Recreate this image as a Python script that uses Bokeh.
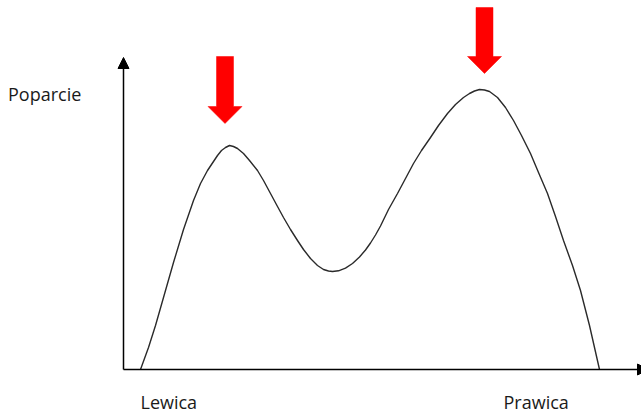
from bokeh.plotting import figure
from bokeh.models import Range1d, Arrow, NormalHead, Label
from bokeh.embed import file_html
from bokeh.resources import INLINE

# Support curve (x: political position, y: support)
curve_x = [17, 25, 32, 40, 50, 60, 70, 77, 84, 90, 94, 98, 102, 106, 110, 114, 120, 126,
           134, 140, 147, 154, 160, 167, 174, 180, 187, 194, 200, 205, 209, 215, 222,
           229, 236, 242, 247, 252, 257, 265, 274, 282, 290, 298, 307, 315, 324, 332,
           340, 346, 351, 356, 361, 366, 374, 382, 390, 398, 407, 415, 424, 432, 440,
           449, 457, 466, 476]
curve_y = [0, 22, 44, 72, 107, 140, 169, 186, 199, 208, 214, 219, 222, 224, 223, 221, 216, 209,
           199, 189, 176, 163, 152, 140, 129, 120, 111, 104, 100, 98.5, 98, 98.7, 101.3,
           106, 112.5, 119.5, 126.5, 134.5, 143.5, 160, 176, 191, 206, 219, 232, 244, 256,
           265, 272, 276, 278.5, 280, 279.5, 278, 272, 262, 249, 234, 216, 197, 176, 153,
           129, 104, 79, 44, 0]

# Red arrows pointing at the two peaks
arrow_x = [101.5, 361]
arrow_tip_y = [246, 296]
arrow_top_y = [313, 362]

# Axis extents
x_axis_end = 525
y_axis_end = 312

# Labels
y_label = "Poparcie"
x_labels = ["Lewica", "Prawica"]
x_label_pos = [17, 380]

p = figure(width=641, height=414, output_backend="svg", toolbar_location=None,
           x_range=Range1d(-123, 518), y_range=Range1d(-45, 369),
           min_border=0, min_border_left=0, min_border_right=0,
           min_border_top=0, min_border_bottom=0)
p.axis.visible = False
p.grid.visible = False
p.outline_line_color = None
p.background_fill_color = "white"
p.border_fill_color = "white"

# Axes with arrowheads
p.add_layout(Arrow(end=NormalHead(size=11, fill_color="black", line_color="black"),
                   x_start=0, y_start=0, x_end=0, y_end=y_axis_end,
                   line_color="black", line_width=1.5))
p.add_layout(Arrow(end=NormalHead(size=11, fill_color="black", line_color="black"),
                   x_start=0, y_start=0, x_end=x_axis_end, y_end=0,
                   line_color="black", line_width=1.5))

# Curve
p.line(curve_x, curve_y, line_color="#2a2a2a", line_width=1.4, line_join="round")

# Red block arrows
shaft_hw, head_hw, head_len = 8.5, 17, 17
xs, ys = [], []
for ax, tip, top in zip(arrow_x, arrow_tip_y, arrow_top_y):
    base = tip + head_len
    xs.append([ax - shaft_hw, ax + shaft_hw, ax + shaft_hw, ax + head_hw, ax,
               ax - head_hw, ax - shaft_hw])
    ys.append([top, top, base, base, tip, base, base])
p.patches(xs, ys, fill_color="#ff0000", line_color="#ff0000", line_width=0.5)

font = "Open Sans"
p.add_layout(Label(x=-115.5, y=276, text=y_label, text_font=font,
                   text_font_size="18px", text_color="#1a1a1a",
                   text_align="left", text_baseline="alphabetic"))
for lx, lt in zip(x_label_pos, x_labels):
    p.add_layout(Label(x=lx, y=-32, text=lt, text_font=font,
                       text_font_size="18px", text_color="#1a1a1a",
                       text_align="left", text_baseline="alphabetic"))

open("out.html", "w").write(file_html(p, INLINE))
